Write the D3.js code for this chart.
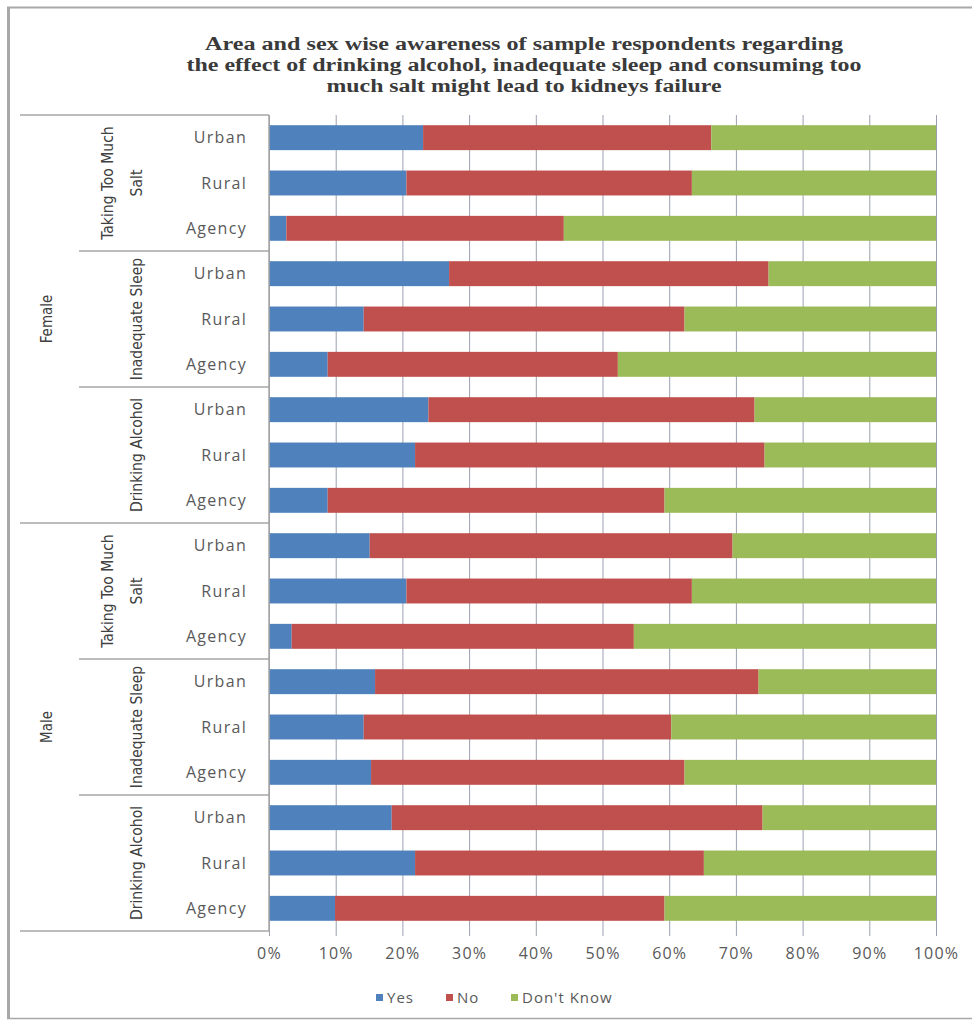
<!DOCTYPE html>
<html>
<head>
<meta charset="utf-8">
<script src="https://cdn.jsdelivr.net/npm/d3@7"></script>
<style>
  html, body { margin: 0; padding: 0; background: #ffffff; }
  svg { display: block; }
</style>
</head>
<body>
<svg id="chart" width="972" height="1021"></svg>
<script>
// Awareness responses (percent of respondents), rows ordered top to bottom:
// Female then Male; within each, Salt / Sleep / Alcohol; within each, Urban / Rural / Agency.
const sexes = ["Female", "Male"];
const causes = ["Taking Too Much Salt", "Inadequate Sleep", "Drinking Alcohol"];
const causeLines = [["Taking Too Much", "Salt"], ["Inadequate Sleep"], ["Drinking Alcohol"]];
const areas = ["Urban", "Rural", "Agency"];
const seriesNames = ["Yes", "No", "Don't Know"];

const yesValues = [23.1, 20.6, 2.6, 27.0, 14.2, 8.8, 23.9, 21.9, 8.8,
                   15.1, 20.6, 3.4, 15.9, 14.2, 15.3, 18.4, 21.9, 9.9];
const noValues  = [43.2, 42.8, 41.6, 47.9, 48.1, 43.5, 48.9, 52.4, 50.5,
                   54.4, 42.8, 51.3, 57.5, 46.1, 47.0, 55.6, 43.3, 49.4];
const dkValues  = [33.7, 36.6, 55.8, 25.1, 37.7, 47.7, 27.2, 25.7, 40.7,
                   30.5, 36.6, 45.3, 26.6, 39.7, 37.7, 26.0, 34.8, 40.7];
const xTicks = [0, 10, 20, 30, 40, 50, 60, 70, 80, 90, 100];

const colors = { "Yes": "#4F81BD", "No": "#C0504D", "Don't Know": "#9BBB59" };

// Build row records
const rows = [];
let k = 0;
sexes.forEach(s => causes.forEach(c => areas.forEach(a => {
  rows.push({ id: s + "|" + c + "|" + a, sex: s, cause: c, area: a,
              "Yes": yesValues[k], "No": noValues[k], "Don't Know": dkValues[k] });
  k++;
})));

const svg = d3.select("#chart");
const plot = { left: 269, right: 936, top: 115, bottom: 931 };

const x = d3.scaleLinear().domain([0, 100]).range([plot.left, plot.right]);
const y = d3.scaleBand().domain(rows.map(r => r.id))
  .range([plot.top, plot.bottom]).paddingInner(0.45).paddingOuter(0.225);

// Outer frame
const frame = svg.append("g").attr("stroke", "#a8a8a8").attr("fill", "none");
frame.append("line").attr("x1", 7).attr("x2", 972).attr("y1", 7.5).attr("y2", 7.5).attr("stroke-width", 2);
frame.append("line").attr("x1", 8.5).attr("x2", 8.5).attr("y1", 7).attr("y2", 1019).attr("stroke-width", 3);
frame.append("line").attr("x1", 7).attr("x2", 972).attr("y1", 1018.5).attr("y2", 1018.5).attr("stroke-width", 1.5);

// Title (three centred lines)
const titleLines = [
  "Area and sex wise awareness of sample respondents regarding",
  "the effect of drinking alcohol, inadequate sleep and consuming too",
  "much salt might lead to kidneys failure"
];
const titleWidths = [638, 675, 395];
svg.append("g")
  .attr("font-family", "'Liberation Serif', 'DejaVu Serif', serif")
  .attr("font-weight", "bold")
  .attr("font-size", 18.5)
  .attr("fill", "#3a3a3a")
  .attr("text-anchor", "middle")
  .selectAll("text").data(titleLines).join("text")
  .attr("x", 524)
  .attr("y", (d, i) => 50 + i * 21)
  .attr("textLength", (d, i) => titleWidths[i])
  .attr("lengthAdjust", "spacingAndGlyphs")
  .text(d => d);

// Vertical gridlines and bottom axis ticks
const xAxis = d3.axisBottom(x).tickValues(xTicks).tickFormat(d => d + "%")
  .tickSize(plot.bottom - plot.top + 5).tickPadding(12);
const gx = svg.append("g").attr("transform", `translate(0,${plot.top})`).call(xAxis);
gx.select(".domain").remove();
gx.selectAll(".tick line").attr("stroke", "#9aa0b0").attr("stroke-width", 1);
gx.selectAll(".tick text")
  .attr("font-family", "'Open Sans', 'DejaVu Sans', sans-serif")
  .attr("font-size", 16)
  .attr("letter-spacing", 1.2)
  .attr("fill", "#595959");

// Stacked bars
const stack = d3.stack().keys(seriesNames);
const layers = stack(rows);
svg.append("g").selectAll("g").data(layers).join("g")
  .attr("fill", d => colors[d.key])
  .selectAll("rect").data(d => d).join("rect")
  .attr("x", d => x(d[0]))
  .attr("width", d => x(d[1]) - x(d[0]))
  .attr("y", d => y(d.data.id))
  .attr("height", y.bandwidth());

// Category axis: vertical line and group separators
const step = y.step();
const sepG = svg.append("g").attr("stroke", "#a6a6a6").attr("stroke-width", 1.5);
sepG.append("line").attr("x1", plot.left).attr("x2", plot.left)
  .attr("y1", plot.top).attr("y2", plot.bottom);
sexes.forEach((s, si) => {
  const y0 = plot.top + si * 9 * step;
  sepG.append("line").attr("x1", 20).attr("x2", plot.left).attr("y1", y0).attr("y2", y0);
  causes.forEach((c, ci) => {
    if (ci > 0) {
      const yc = y0 + ci * 3 * step;
      sepG.append("line").attr("x1", 79).attr("x2", plot.left).attr("y1", yc).attr("y2", yc);
    }
  });
});
sepG.append("line").attr("x1", 20).attr("x2", plot.left).attr("y1", plot.bottom).attr("y2", plot.bottom);

// Area labels
svg.append("g").selectAll("text").data(rows).join("text")
  .attr("x", 247)
  .attr("y", d => y(d.id) + y.bandwidth() / 2)
  .attr("dy", "0.35em")
  .attr("text-anchor", "end")
  .attr("font-family", "'Open Sans', 'DejaVu Sans', sans-serif")
  .attr("font-size", 16)
  .attr("letter-spacing", 1.3)
  .attr("fill", "#595959")
  .text(d => d.area);

// Cause labels (rotated)
const causeG = svg.append("g")
  .attr("font-family", "'Liberation Sans Narrow', 'DejaVu Sans Condensed', sans-serif")
  .attr("font-size", 15.5)
  .attr("fill", "#404040")
  .attr("text-anchor", "middle");
sexes.forEach((s, si) => {
  causes.forEach((c, ci) => {
    const cy = plot.top + (si * 9 + ci * 3 + 1.5) * step;
    const lines = causeLines[ci];
    const xs = lines.length === 2 ? [113, 142] : [142];
    lines.forEach((ln, li) => {
      causeG.append("text")
        .attr("transform", `translate(${xs[li]},${cy}) rotate(-90)`)
        .text(ln);
    });
  });
});

// Sex labels (rotated)
const sexG = svg.append("g")
  .attr("font-family", "'Liberation Sans Narrow', 'DejaVu Sans Condensed', sans-serif")
  .attr("font-size", 15)
  .attr("fill", "#404040")
  .attr("text-anchor", "middle");
sexes.forEach((s, si) => {
  const cy = plot.top + (si * 9 + 4.5) * step;
  sexG.append("text")
    .attr("transform", `translate(52,${cy}) rotate(-90)`)
    .text(s);
});

// Legend
const legendX = [376, 446, 511];
const lg = svg.append("g")
  .attr("font-family", "'Open Sans', 'DejaVu Sans', sans-serif")
  .attr("font-size", 15)
  .attr("letter-spacing", 1)
  .attr("fill", "#595959");
seriesNames.forEach((name, i) => {
  lg.append("rect").attr("x", legendX[i]).attr("y", 994).attr("width", 7).attr("height", 7)
    .attr("fill", colors[name]);
  lg.append("text").attr("x", legendX[i] + 11).attr("y", 998).attr("dy", "0.35em").text(name);
});
</script>
</body>
</html>
